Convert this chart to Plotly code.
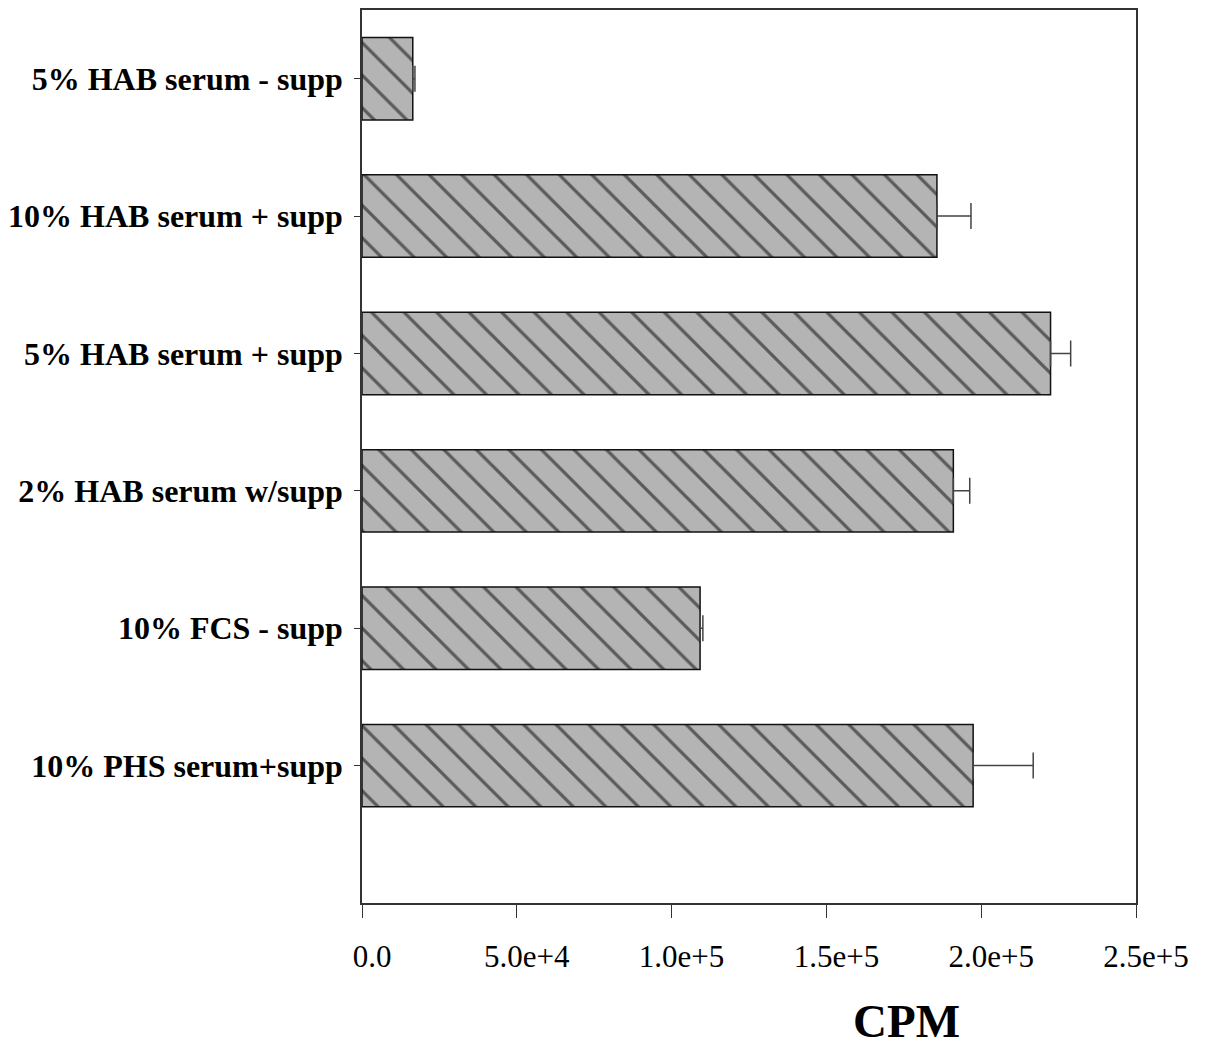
import plotly.graph_objects as go

# categories listed bottom -> top
categories = [
    "10% PHS serum+supp",
    "10% FCS - supp",
    "2% HAB serum w/supp",
    "5% HAB serum + supp",
    "10% HAB serum + supp",
    "5% HAB serum - supp",
]
cpm_values = [197400, 109200, 191000, 222400, 185700, 16400]
cpm_errors = [19400, 900, 5300, 6500, 11000, 700]
no_minus = [0, 0, 0, 0, 0, 0]

x_tickvals = [0, 50000, 100000, 150000, 200000, 250000]
x_ticktext = ["0.0", "5.0e+4", "1.0e+5", "1.5e+5", "2.0e+5", "2.5e+5"]

SERIF = "Liberation Serif, Times New Roman, serif"

fig = go.Figure()
fig.add_trace(go.Bar(
    orientation="h",
    y=categories,
    x=cpm_values,
    width=0.6,
    marker=dict(
        color="#b4b4b4",
        line=dict(color="#111111", width=1.5),
        pattern=dict(shape="\\", fgcolor="#000000", bgcolor="#b4b4b4",
                     size=23, solidity=0.14, fillmode="overlay"),
    ),
    error_x=dict(type="data", array=cpm_errors, arrayminus=no_minus,
                 symmetric=False, color="#444444", thickness=1.5, width=13),
    showlegend=False,
))

fig.update_layout(
    width=1210, height=1046,
    margin=dict(l=362, r=74, t=8, b=143),
    paper_bgcolor="white", plot_bgcolor="white",
    font=dict(family=SERIF, color="black"),
    bargap=0.4,
)

fig.update_xaxes(
    range=[0, 250000],
    tickvals=x_tickvals, ticktext=x_ticktext,
    ticks="outside", ticklen=13, tickwidth=1.2, tickcolor="#333",
    showline=True, linecolor="#333", linewidth=1.5, mirror=True,
    showgrid=False, zeroline=False,
    tickfont=dict(family=SERIF, size=31, color="black"),
    ticklabelstandoff=12, ticklabelshift=10,
)
fig.update_yaxes(
    type="category", categoryorder="array", categoryarray=categories,
    range=[-1, 5.5],
    ticks="outside", ticklen=6, tickwidth=1.2, tickcolor="#333",
    showline=True, linecolor="#333", linewidth=1.5, mirror=True,
    showgrid=False, zeroline=False,
    tickfont=dict(family=SERIF, size=32, color="black", weight="bold"),
    ticklabelstandoff=5,
)

fig.add_annotation(
    text="<b>CPM</b>", xref="paper", yref="paper",
    x=0.703, y=-0.132, xanchor="center", yanchor="middle",
    showarrow=False, font=dict(family=SERIF, size=47, color="black"),
)

fig.write_html("out.html")
